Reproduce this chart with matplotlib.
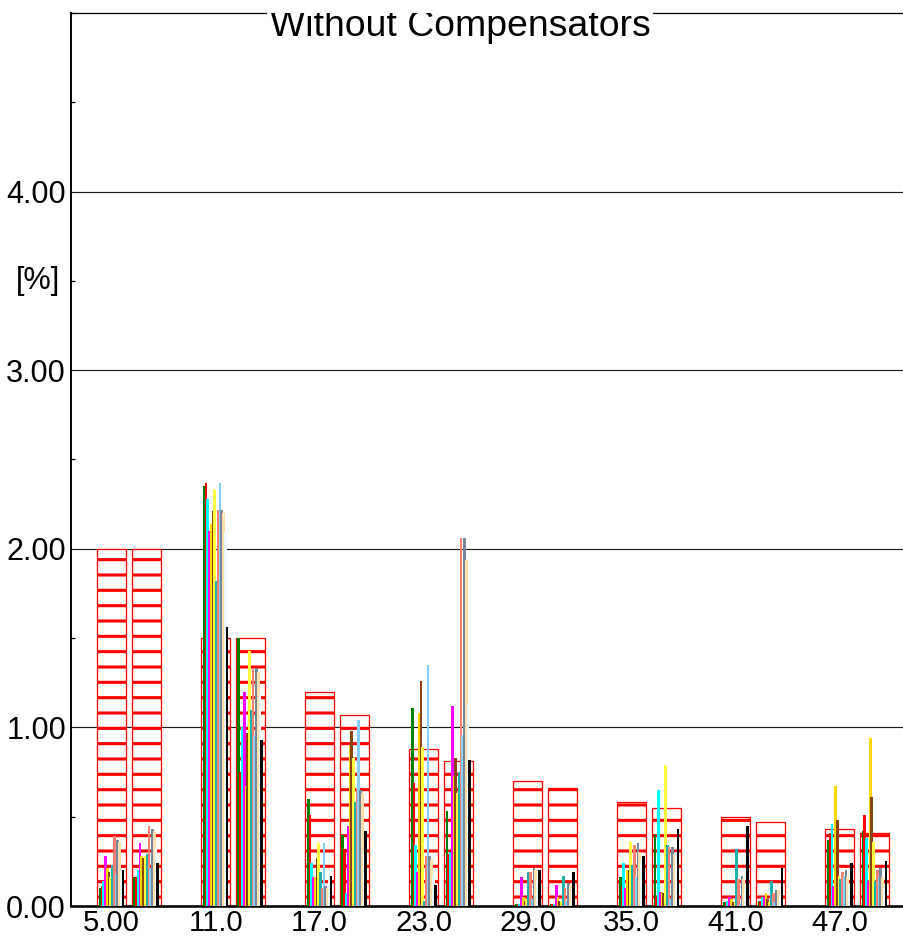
import numpy as np
import matplotlib
matplotlib.use("Agg")
import matplotlib.pyplot as plt
import matplotlib.transforms as mtransforms
from matplotlib.ticker import MultipleLocator, FixedLocator

plt.rcParams["font.family"] = ["Liberation Sans", "DejaVu Sans"]
plt.rcParams["hatch.linewidth"] = 2.4

# harmonic orders and their permitted limits [%]
harmonics = [5, 7, 11, 13, 17, 19, 23, 25, 29, 31, 35, 37, 41, 43, 47, 49]
limits = [2.00, 2.00, 1.50, 1.50, 1.20, 1.07, 0.88, 0.81,
          0.70, 0.66, 0.58, 0.55, 0.50, 0.47, 0.43, 0.41]

# measured harmonic levels per measurement [%]
m01 = [0.10, 0.16, 2.35, 1.50, 0.60, 0.40, 1.11, 0.53, 0.01, 0.01, 0.16, 0.40, 0.02, 0.03, 0.37, 0.42]
m02 = [0.11, 0.16, 2.37, 0.75, 0.51, 0.32, 0.69, 0.29, 0.01, 0.01, 0.11, 0.05, 0.02, 0.03, 0.41, 0.51]
m03 = [0.14, 0.20, 2.28, 1.00, 0.24, 0.07, 0.34, 0.30, 0.01, 0.01, 0.24, 0.65, 0.03, 0.05, 0.46, 0.38]
m04 = [0.28, 0.35, 2.10, 1.20, 0.16, 0.45, 0.19, 1.12, 0.16, 0.12, 0.10, 0.08, 0.05, 0.05, 0.11, 0.14]
m05 = [0.21, 0.28, 2.14, 0.67, 0.16, 0.90, 1.08, 0.73, 0.05, 0.05, 0.20, 0.08, 0.04, 0.07, 0.67, 0.94]
m06 = [0.19, 0.27, 2.21, 0.97, 0.27, 0.98, 1.26, 0.83, 0.03, 0.03, 0.20, 0.07, 0.02, 0.04, 0.48, 0.61]
m07 = [0.16, 0.28, 2.33, 1.43, 0.35, 0.83, 0.89, 0.63, 0.04, 0.03, 0.36, 0.79, 0.02, 0.02, 0.17, 0.36]
m08 = [0.23, 0.29, 1.82, 1.10, 0.19, 0.58, 0.03, 0.75, 0.19, 0.17, 0.23, 0.34, 0.32, 0.14, 0.15, 0.14]
m09 = [0.39, 0.45, 2.22, 1.33, 0.10, 0.66, 0.28, 2.06, 0.19, 0.10, 0.34, 0.33, 0.15, 0.07, 0.19, 0.20]
m10 = [0.18, 0.21, 2.37, 0.95, 0.35, 1.04, 1.35, 0.96, 0.04, 0.03, 0.16, 0.04, 0.01, 0.02, 0.17, 0.16]
m11 = [0.37, 0.43, 2.22, 1.33, 0.11, 0.65, 0.28, 2.06, 0.21, 0.13, 0.35, 0.33, 0.17, 0.09, 0.20, 0.21]
m12 = [0.36, 0.42, 2.20, 1.31, 0.10, 0.63, 0.26, 1.94, 0.20, 0.12, 0.30, 0.29, 0.15, 0.09, 0.16, 0.16]
m13 = [0.20, 0.33, 2.09, 1.20, 0.20, 0.30, 0.18, 1.13, 0.15, 0.10, 0.25, 0.30, 0.10, 0.06, 0.12, 0.10]
m14 = [0.20, 0.24, 1.56, 0.93, 0.17, 0.42, 0.12, 0.82, 0.20, 0.19, 0.28, 0.43, 0.45, 0.21, 0.24, 0.25]

series = [m01, m02, m03, m04, m05, m06, m07, m08, m09, m10, m11, m12, m13, m14]
colors = ["#008000", "#ff0000", "#00ffff", "#ff00ff", "#ffd700", "#8b4513", "#ffff40",
          "#20b2aa", "#fa8072", "#87cefa", "#778899", "#ffdead", "#f0f8ff", "#000000"]

xtick_pos = [5, 11, 17, 23, 29, 35, 41, 47]
xtick_labels = ["5.00", "11.0", "17.0", "23.0", "29.0", "35.0", "41.0", "47.0"]

dpi = 92
fig = plt.figure(figsize=(904 / dpi, 939 / dpi), dpi=dpi)
ax = fig.add_axes([71 / 904, 33 / 939, 833 / 904, 893 / 939])

# limit boxes
ax.bar(harmonics, limits, width=1.67, facecolor="white", edgecolor="red",
       hatch="-", linewidth=1.0, zorder=2)

# measured values, one thin bar per measurement inside each box
offsets = np.linspace(-0.66, 0.66, len(series))
h = np.array(harmonics, dtype=float)
for vals, off, col in zip(series, offsets, colors):
    ax.bar(h + off, vals, width=0.16, color=col, linewidth=0, zorder=3)

ax.set_xlim(2.66, 50.7)
ax.set_ylim(0, 5)

ax.yaxis.set_major_locator(FixedLocator([0, 1, 2, 3, 4]))
ax.yaxis.set_minor_locator(MultipleLocator(0.5))
ax.yaxis.set_major_formatter(plt.FuncFormatter(lambda v, p: f"{v:.2f}"))
ax.set_xticks(xtick_pos)
ax.set_xticklabels(xtick_labels)

ax.tick_params(axis="y", which="major", length=0, pad=4, labelsize=24)
ax.tick_params(axis="y", which="minor", direction="in", length=3, width=1)
ax.tick_params(axis="x", length=0, pad=2, labelsize=23)

for y in [1, 2, 3, 4]:
    ax.axhline(y, color="#1a1a1a", linewidth=0.9, zorder=1)

ax.spines["right"].set_visible(False)
ax.spines["left"].set_linewidth(1.5)
ax.spines["bottom"].set_linewidth(2.0)
ax.spines["top"].set_linewidth(1.0)

trans = mtransforms.blended_transform_factory(ax.transAxes, ax.transData)
ax.text(-0.04, 3.5, "[%]", transform=trans, ha="center", va="center", fontsize=24)

# title: a white patch hides the top frame line, the lettering itself is cut at the frame
title_kw = dict(transform=ax.transAxes, ha="center", va="baseline", fontsize=29.3)
ax.text(0.467, 0.9737, "Without Compensators", color="none", zorder=5, clip_on=False,
        bbox=dict(boxstyle="square,pad=0.08", facecolor="white", edgecolor="none"),
        **title_kw)
ax.text(0.467, 0.9737, "Without Compensators", color="black", zorder=6, clip_on=True,
        **title_kw)

fig.savefig("out.png", dpi=dpi)
